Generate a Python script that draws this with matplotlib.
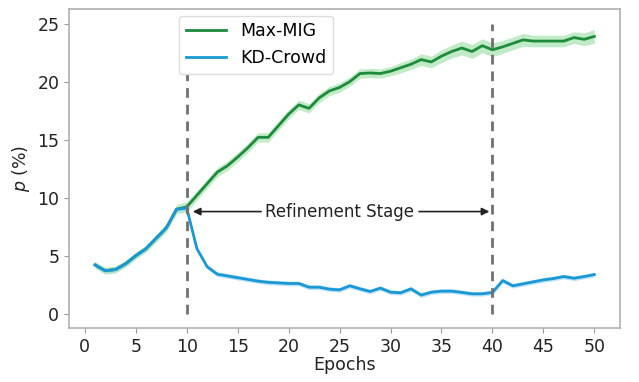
import matplotlib
matplotlib.use("Agg")
import matplotlib.pyplot as plt
import numpy as np

epochs = list(range(1, 51))

max_mig = [4.2, 3.7, 3.8, 4.3, 5.0, 5.6, 6.5, 7.4, 9.0, 9.2,
           10.2, 11.2, 12.2, 12.75, 13.5, 14.3, 15.2, 15.2, 16.2, 17.2,
           18.0, 17.7, 18.6, 19.2, 19.5, 20.0, 20.7, 20.75, 20.7, 20.9,
           21.2, 21.5, 21.9, 21.7, 22.2, 22.6, 22.9, 22.6, 23.1, 22.75,
           23.0, 23.3, 23.6, 23.5, 23.5, 23.5, 23.5, 23.8, 23.65, 23.9]
max_mig_std = [0.3, 0.3, 0.3, 0.3, 0.3, 0.3, 0.35, 0.35, 0.4, 0.45,
               0.4, 0.4, 0.4, 0.4, 0.4, 0.4, 0.4, 0.4, 0.4, 0.4,
               0.4, 0.4, 0.4, 0.4, 0.4, 0.4, 0.4, 0.4, 0.4, 0.4,
               0.45, 0.45, 0.5, 0.5, 0.55, 0.55, 0.6, 0.6, 0.6, 0.6,
               0.55, 0.55, 0.55, 0.5, 0.5, 0.5, 0.5, 0.5, 0.55, 0.6]

kd_crowd = [4.2, 3.7, 3.8, 4.3, 5.0, 5.6, 6.5, 7.4, 9.0, 9.1,
            5.6, 4.05, 3.4, 3.25, 3.1, 2.95, 2.8, 2.7, 2.65, 2.6,
            2.6, 2.28, 2.28, 2.11, 2.05, 2.4, 2.14, 1.91, 2.2, 1.85,
            1.8, 2.14, 1.6, 1.85, 1.94, 1.94, 1.83, 1.71, 1.71, 1.83,
            2.85, 2.4, 2.57, 2.74, 2.91, 3.03, 3.2, 3.05, 3.2, 3.37]
kd_crowd_std = [0.2] * 50

x_ticks = [0, 5, 10, 15, 20, 25, 30, 35, 40, 45, 50]
y_ticks = [0, 5, 10, 15, 20, 25]
stage_bounds = [10, 40]
legend_labels = ["Max-MIG", "KD-Crowd"]
stage_label = "Refinement Stage"
stage_y = 8.8

green = "#1d8a3c"
green_fill = "#8fdc97"
blue = "#1a98d5"
blue_fill = "#8fd0f0"

fig = plt.figure(figsize=(6.39, 3.82), dpi=100)
ax = fig.add_axes([0.108, 0.141, 0.862, 0.835])

ep = np.array(epochs)
mm = np.array(max_mig)
mms = np.array(max_mig_std)
kd = np.array(kd_crowd)
kds = np.array(kd_crowd_std)

ax.fill_between(ep, mm - mms, mm + mms, color=green_fill, alpha=0.55, lw=0)
ax.fill_between(ep, kd - kds, kd + kds, color=blue_fill, alpha=0.6, lw=0)
ax.plot(ep, mm, color=green, lw=2, label=legend_labels[0])
ax.plot(ep, kd, color=blue, lw=2, label=legend_labels[1])

for b in stage_bounds:
    ax.vlines(b, 0, 25, colors="#707070", linestyles=(0, (3.5, 2.5)), lw=2)

ax.text(25, stage_y, stage_label, ha="center", va="center", fontsize=12, color="#222222")
ax.annotate("", xy=(10.6, stage_y), xytext=(17.3, stage_y),
            arrowprops=dict(arrowstyle="-|>", color="#222222", lw=1.2, shrinkA=0, shrinkB=0,
                            mutation_scale=11))
ax.annotate("", xy=(39.7, stage_y), xytext=(32.8, stage_y),
            arrowprops=dict(arrowstyle="-|>", color="#222222", lw=1.2, shrinkA=0, shrinkB=0,
                            mutation_scale=11))

ax.set_xlim(-1.55, 52.5)
ax.set_ylim(-1.25, 26.25)
ax.set_xticks(x_ticks)
ax.set_yticks(y_ticks)
ax.tick_params(axis="both", labelsize=12.5, colors="#999999", labelcolor="#222222", length=3.5)
for s in ax.spines.values():
    s.set_color("#b0b0b0")
    s.set_linewidth(1.2)

ax.set_xlabel("Epochs", fontsize=12.5, color="#222222", labelpad=0)
ax.set_ylabel("$p$ (%)", fontsize=12.5, color="#222222", labelpad=4)

leg = ax.legend(loc="upper left", bbox_to_anchor=(0.2, 0.98), borderaxespad=0,
                fontsize=12.5, handlelength=2.3, frameon=True, framealpha=1,
                edgecolor="#dddddd", fancybox=True)

fig.savefig("out.png", dpi=100)
